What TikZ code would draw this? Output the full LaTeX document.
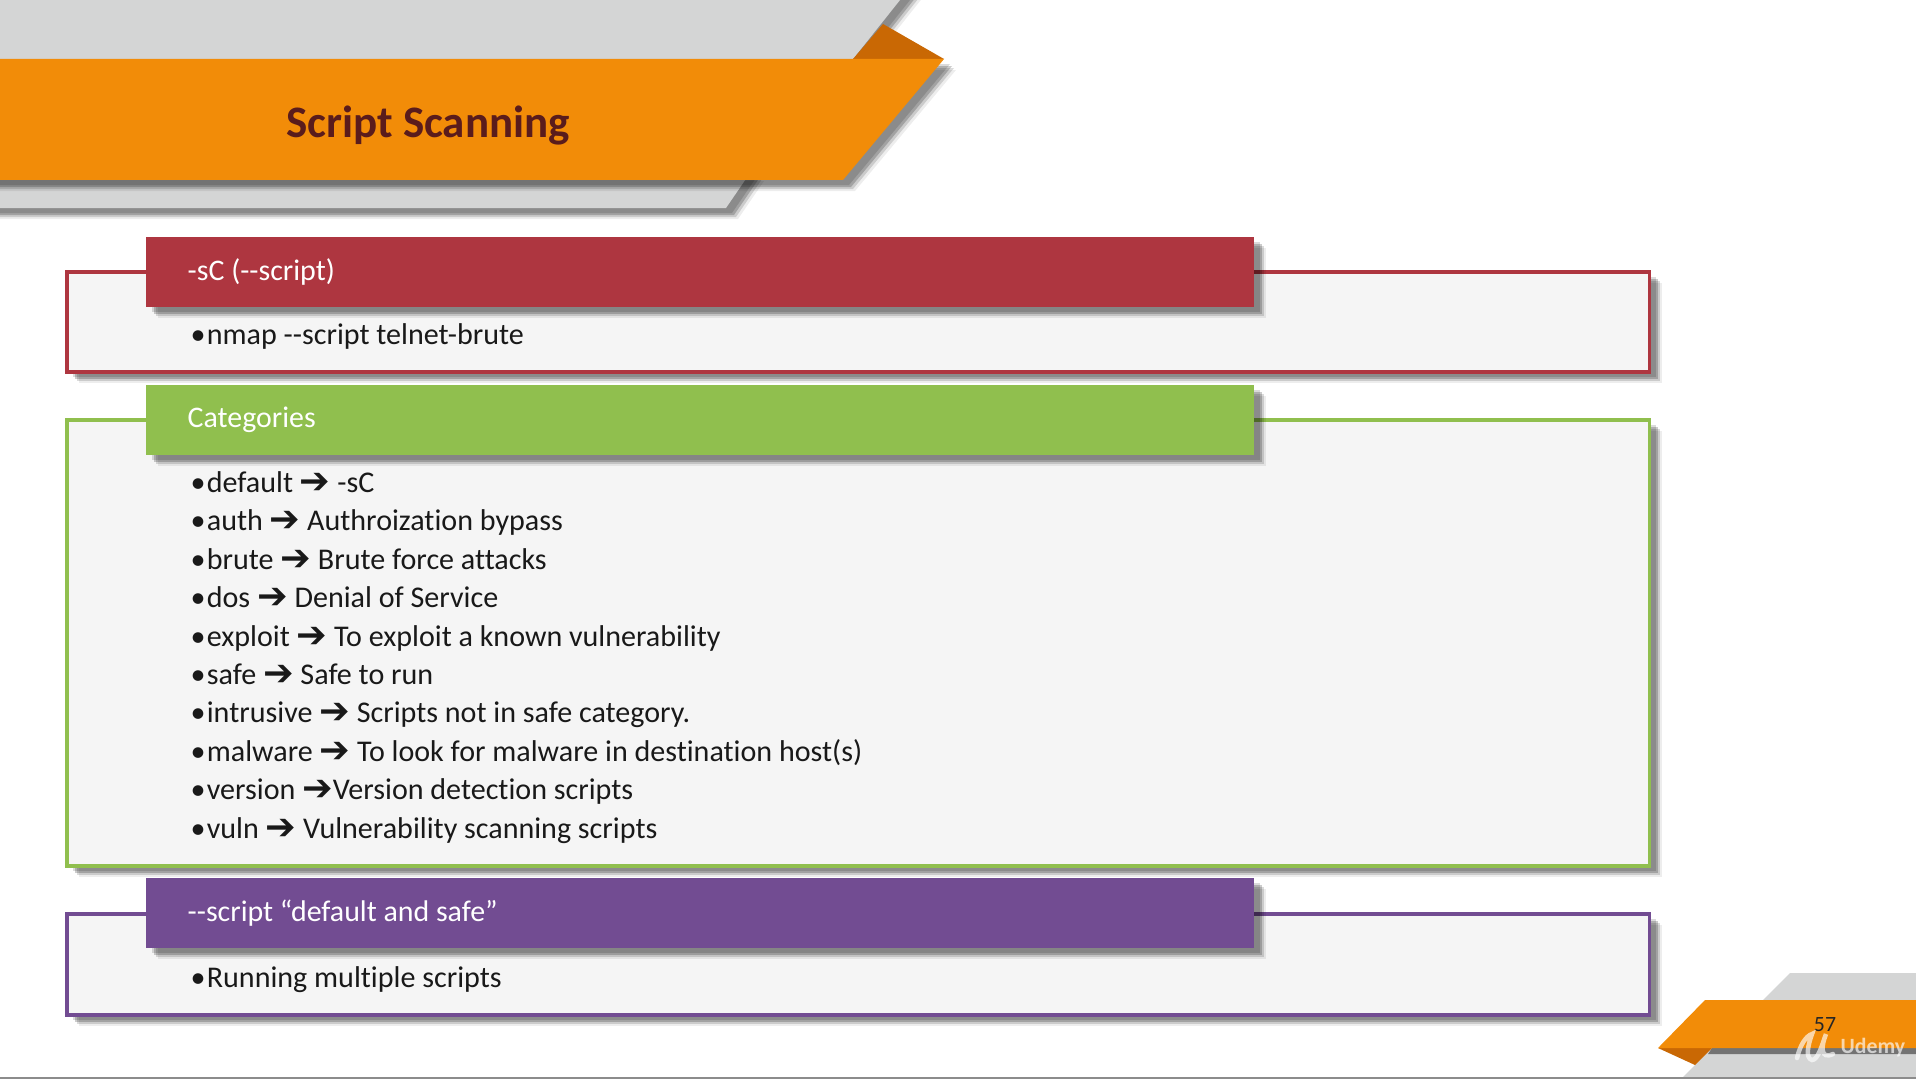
\documentclass[tikz,border=0pt]{standalone}
\usepackage{fontspec}
\setmainfont{Carlito}[Ligatures=NoCommon]
\newfontfamily\arrowfont{DejaVu Sans Bold}
\usetikzlibrary{shadows}
\definecolor{bannerorange}{HTML}{F28C08}
\definecolor{foldorange}{HTML}{C96804}
\definecolor{bannergray}{HTML}{D4D5D5}
\definecolor{boxgray}{HTML}{F5F5F5}
\definecolor{redhead}{HTML}{AE3640}
\definecolor{greenhead}{HTML}{90BF4E}
\definecolor{purplehead}{HTML}{724C92}
\definecolor{titlebrown}{HTML}{5A1C1C}
\newcommand{\toarrow}{{\arrowfont\fontsize{10.4}{9}\selectfont\raisebox{-.4pt}{➔}}}
\newcommand{\rowbullet}{\makebox[4.6pt][l]{•}}
\tikzset{
  softshadow/.style={
    drop shadow={shadow xshift=.06cm,shadow yshift=-.05cm,fill=black,opacity=.14},
    drop shadow={shadow xshift=.08cm,shadow yshift=-.07cm,fill=black,opacity=.2},
    drop shadow={shadow xshift=.10cm,shadow yshift=-.09cm,fill=black,opacity=.14},
    drop shadow={shadow xshift=.12cm,shadow yshift=-.11cm,fill=black,opacity=.07}},
  outerbox/.style={draw,line width=.035cm,fill=boxgray,anchor=north west,inner sep=0pt,
    minimum width=15.82cm,softshadow},
  headbox/.style={anchor=north west,text=white,text width=10.24cm,inner xsep=.42cm,inner ysep=0pt,
    align=flush left,minimum height=.70cm,font=\fontsize{8.5}{10}\selectfont,softshadow},
  rowtext/.style={anchor=base west,inner sep=0pt,text=black!90,font=\fontsize{8.55}{10}\selectfont}
}
\begin{document}
\begin{tikzpicture}[x=0.01cm,y=-0.01cm]
\useasboundingbox (0,0) rectangle (1916,1079);
\fill[white] (0,0) rectangle (1916,1079);
% ---- top banner ----
\fill[bannergray,softshadow] (-20,-20) -- (916,-20) -- (853,59) -- (-20,59) -- cycle;
\fill[bannergray,softshadow] (-20,170) -- (752,170) -- (726,208) -- (-20,208) -- cycle;
\fill[foldorange] (853,59) -- (883,24) -- (944,59) -- cycle;
\fill[bannerorange,softshadow] (-20,59) -- (944,59) -- (843,180) -- (-20,180) -- cycle;
\node[text=titlebrown,font=\bfseries\fontsize{12.8}{14}\selectfont] (title) at (428,126) {Script Scanning};
% ---- -sC box ----
\node[outerbox,draw=redhead,minimum height=1.0cm] (sCbox) at (65,270) {};
\node[headbox,fill=redhead] (sChead) at (145,236) {-sC (-{}-script)};
\node[rowtext] (sCrow) at (190,344) {\rowbullet nmap -{}-script telnet-brute};
% ---- categories box ----
\node[outerbox,draw=greenhead,minimum height=4.46cm] (catbox) at (65,418) {};
\node[headbox,fill=greenhead] (cathead) at (145,384) {Categories};
\foreach \i/\y/\txt in {
  1/492/{default \toarrow\ -sC},
  2/530/{auth \toarrow\ Authroization bypass},
  3/569/{brute \toarrow\ Brute force attacks},
  4/607/{dos \toarrow\ Denial of Service},
  5/646/{exploit \toarrow\ To exploit a known vulnerability},
  6/684/{safe \toarrow\ Safe to run},
  7/722/{intrusive \toarrow\ Scripts not in safe category.},
  8/761/{malware \toarrow\ To look for malware in destination host(s)},
  9/799/{version \toarrow Version detection scripts},
  10/838/{vuln \toarrow\ Vulnerability scanning scripts}}{
  \node[rowtext] (catrow\i) at (190,\y) {\rowbullet \txt};
}
% ---- multiple scripts box ----
\node[outerbox,draw=purplehead,minimum height=1.01cm] (multibox) at (65,912) {};
\node[headbox,fill=purplehead] (multihead) at (145,877) {-{}-script “default and safe”};
\node[rowtext] (multirow) at (190,987) {\rowbullet Running multiple scripts};
% ---- bottom right banner ----
\fill[bannergray] (1790,973) -- (1916,973) -- (1916,1000) -- (1763,1000) -- cycle;
\fill[bannergray] (1712,1048) -- (1916,1048) -- (1916,1077) -- (1683,1077) -- cycle;
\fill[black!55] (1712,1048) -- (1916,1048) -- (1916,1054) -- (1708,1054) -- cycle;
\fill[foldorange] (1658,1048) -- (1712,1048) -- (1695,1065) -- cycle;
\fill[bannerorange] (1705,1000) -- (1916,1000) -- (1916,1048) -- (1658,1048) -- cycle;
\draw[black!45,line width=.015cm] (0,1078) -- (1916,1078);
\node[text=black!85,font=\fontsize{6.2}{7}\selectfont] (pagenum) at (1825,1025) {57};
% ---- watermark ----
\draw[white,opacity=.65,line width=.045cm,line cap=round]
  (1797,1058) .. controls (1800,1045) and (1806,1036) .. (1812,1034)
  .. controls (1808,1045) and (1805,1058) .. (1812,1060)
  .. controls (1818,1060) and (1822,1045) .. (1826,1034)
  .. controls (1821,1046) and (1820,1060) .. (1833,1054);
\node[text=white,opacity=.65,font=\bfseries\fontsize{6.2}{7}\selectfont] (udemy) at (1873,1048) {Udemy};
\end{tikzpicture}
\end{document}
